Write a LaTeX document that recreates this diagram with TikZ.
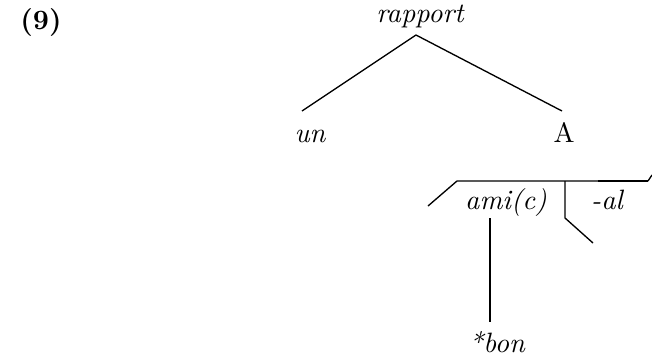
\documentclass[tikz,border=0pt]{standalone}
\begin{document}
\begin{tikzpicture}[x=0.375pt,y=-0.375pt,
  lbl/.style={inner sep=0pt,anchor=base,font=\fontsize{10.5}{12}\selectfont\itshape},
  edge/.style={line width=0.5pt,line join=round}]
\useasboundingbox (0,0) rectangle (652,355);

% example number
\node[lbl,font=\fontsize{10.5}{12}\selectfont\bfseries] (num) at (41,29) {(9)};

% upper tree
\node[lbl] (rapport) at (420,22) {rapport};
\node[lbl] (un) at (310,142) {un};
\node[lbl,font=\fontsize{10.5}{12}\selectfont] (A) at (564,142) {A};
\coordinate (apex) at (416,35);
\coordinate (unTop) at (302,111);
\coordinate (ATop) at (562,111);
\draw[edge] (unTop) -- (apex) -- (ATop);

% bracketed structure
\node[lbl] (ami) at (506,209) {ami(c)};
\node[lbl] (al) at (607,209) {-al};
\coordinate (bl) at (428,206);
\coordinate (bs) at (457,181);
\coordinate (bm) at (565,181);
\coordinate (bt) at (598,181);
\coordinate (be) at (648,181);
\coordinate (bu) at (652,175);
\coordinate (sk) at (565,218);
\coordinate (sd) at (593,243);
\draw[edge] (bl) -- (bs) -- (bt);
\draw[line width=1pt] (bt) -- (be);
\draw[edge] (be) -- (bu);
\draw[edge] (bm) -- (sk) -- (sd);

% lower branch
\node[lbl] (bon) at (497,352) {*bon};
\coordinate (amiBot) at (490,218);
\coordinate (bonTop) at (490,322);
\draw[edge] (amiBot) -- (bonTop);
\end{tikzpicture}
\end{document}
